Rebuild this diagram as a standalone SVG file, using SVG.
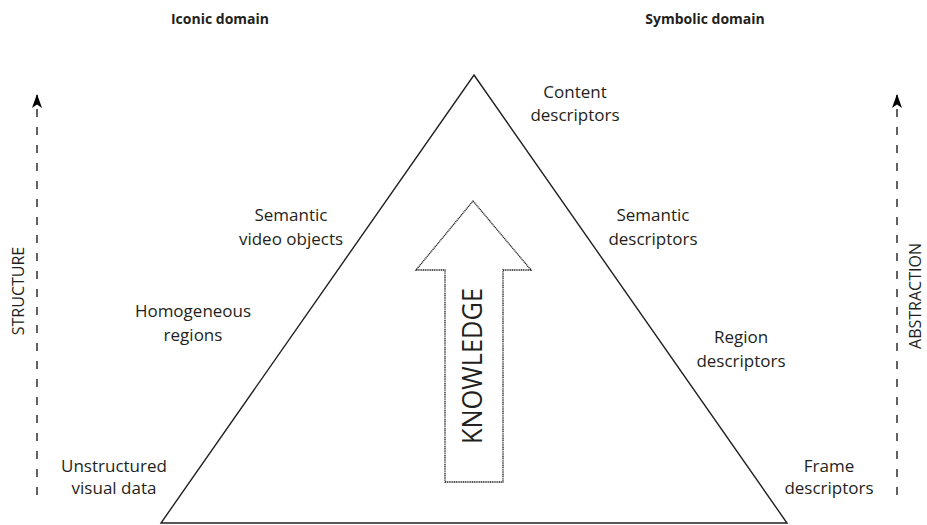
<svg xmlns="http://www.w3.org/2000/svg" width="927" height="525" viewBox="0 0 927 525">
  <defs>
    <marker id="tip" viewBox="0 0 14 10" refX="13" refY="5" markerWidth="14" markerHeight="10" markerUnits="userSpaceOnUse" orient="auto">
      <path d="M14,5 L0,0 L3.5,5 L0,10 Z" fill="#000"/>
    </marker>
    <style>
      .lbl { font-family: "Open Sans", "Liberation Sans", sans-serif; font-size: 17px; fill: #231f20; text-anchor: middle; }
      .head { font-family: "Open Sans", "Liberation Sans", sans-serif; font-size: 14px; font-weight: bold; fill: #231f20; text-anchor: middle; }
      .axis { font-family: "Open Sans", "Liberation Sans", sans-serif; font-size: 16px; fill: #231f20; text-anchor: middle; }
      .axisline { stroke: #231f20; stroke-width: 1.4; stroke-dasharray: 8 10; fill: none; }
      .tri { fill: none; stroke: #231f20; stroke-width: 1.4; stroke-linejoin: miter; }
      .big { fill: #fff; stroke: #231f20; stroke-width: 1.3; stroke-dasharray: 1.2 0.6; }
    </style>
  </defs>

  <rect width="927" height="525" fill="#fff"/>

  <!-- domain headings -->
  <text class="head" x="220" y="24">Iconic domain</text>
  <text class="head" x="705" y="24">Symbolic domain</text>

  <!-- pyramid -->
  <g id="pyramid">
    <polygon class="tri" points="474,75 787,523 161,523"/>
  </g>

  <!-- knowledge arrow -->
  <g id="knowledge">
    <polygon class="big" points="473,201 531,270 503,270 503,482 445,482 445,270 416,270"/>
    <text transform="translate(482,366) rotate(-90)" x="0" y="0" text-anchor="middle" font-family="Open Sans, Liberation Sans, sans-serif" font-size="28" fill="#231f20" textLength="156" lengthAdjust="spacingAndGlyphs">KNOWLEDGE</text>
  </g>

  <!-- side axes -->
  <g id="connectors">
    <line class="axisline" x1="37" y1="495" x2="37" y2="95" marker-end="url(#tip)"/>
    <line class="axisline" x1="897" y1="495" x2="897" y2="95" marker-end="url(#tip)"/>
  </g>
  <g id="structure">
    <text class="axis" transform="translate(24,291) rotate(-90)">STRUCTURE</text>
  </g>
  <g id="abstraction">
    <text class="axis" transform="translate(921,296) rotate(-90)">ABSTRACTION</text>
  </g>

  <!-- iconic side -->
  <g id="semantic-video-objects">
    <text class="lbl" x="291" y="221">Semantic</text>
    <text class="lbl" x="291" y="245">video objects</text>
  </g>
  <g id="homogeneous-regions">
    <text class="lbl" x="193" y="317">Homogeneous</text>
    <text class="lbl" x="193" y="341">regions</text>
  </g>
  <g id="unstructured-visual-data">
    <text class="lbl" x="114" y="472">Unstructured</text>
    <text class="lbl" x="114" y="494">visual data</text>
  </g>

  <!-- symbolic side -->
  <g id="content-descriptors">
    <text class="lbl" x="575" y="98">Content</text>
    <text class="lbl" x="575" y="121">descriptors</text>
  </g>
  <g id="semantic-descriptors">
    <text class="lbl" x="653" y="221">Semantic</text>
    <text class="lbl" x="653" y="245">descriptors</text>
  </g>
  <g id="region-descriptors">
    <text class="lbl" x="741" y="343">Region</text>
    <text class="lbl" x="741" y="367">descriptors</text>
  </g>
  <g id="frame-descriptors">
    <text class="lbl" x="829" y="472">Frame</text>
    <text class="lbl" x="829" y="494">descriptors</text>
  </g>
</svg>
